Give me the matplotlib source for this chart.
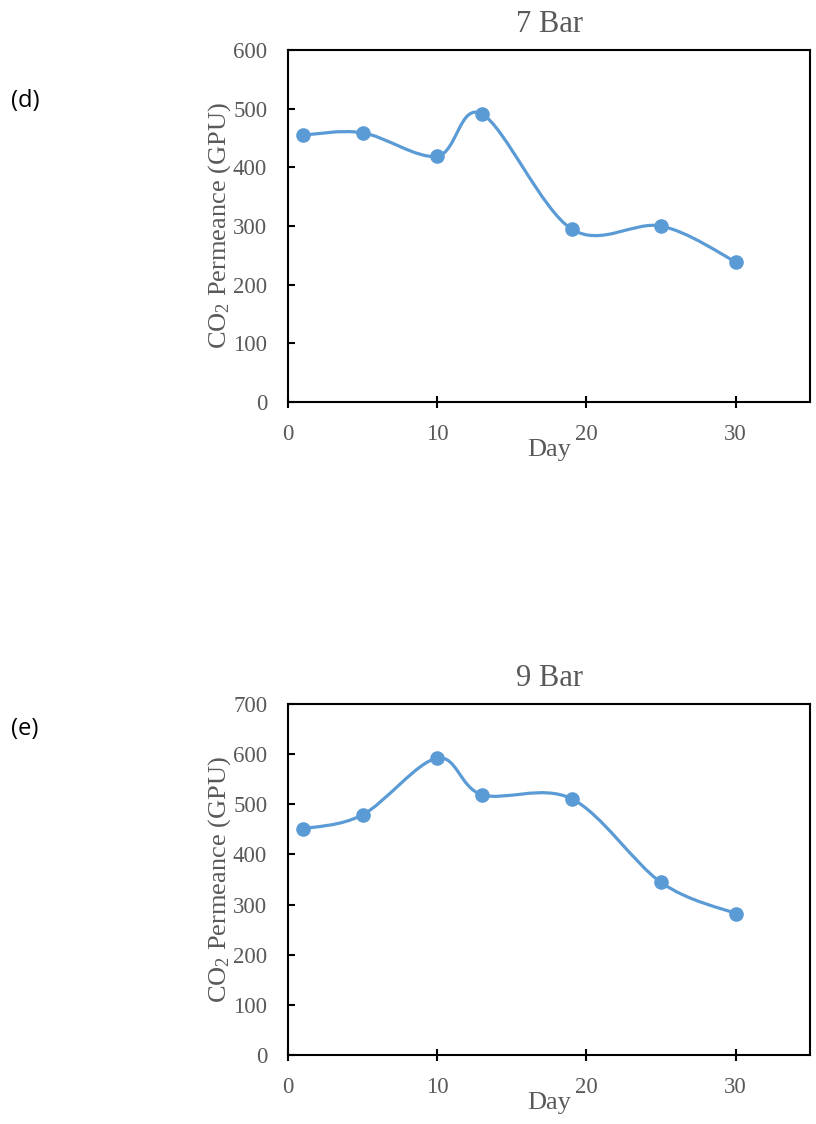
import matplotlib
matplotlib.use("Agg")
import matplotlib.pyplot as plt
from matplotlib.path import Path
from matplotlib.patches import PathPatch

# data
days = [1, 5, 10, 13, 19, 25, 30]
perm_7bar = [455, 459, 419, 491, 295, 300, 239]
perm_9bar = [451, 479, 592, 519, 511, 344, 282]

panel_tags = ["(d)", "(e)"]
titles = ["7 Bar", "9 Bar"]
y_tops = [600, 700]

blue = "#5B9BD5"
grey = "#595959"
serif = ["Liberation Serif", "DejaVu Serif"]

plt.rcParams["mathtext.fontset"] = "custom"
plt.rcParams["mathtext.rm"] = "Liberation Serif"
plt.rcParams["mathtext.it"] = "Liberation Serif:italic"


def smooth_path(x, y):
    # Excel-like smoothed line: cubic bezier between points
    n = len(x)
    verts = [(x[0], y[0])]
    codes = [Path.MOVETO]
    for i in range(n - 1):
        i0 = max(i - 1, 0)
        i3 = min(i + 2, n - 1)
        c1 = (x[i] + (x[i + 1] - x[i0]) / 6, y[i] + (y[i + 1] - y[i0]) / 6)
        c2 = (x[i + 1] - (x[i3] - x[i]) / 6, y[i + 1] - (y[i3] - y[i]) / 6)
        verts += [c1, c2, (x[i + 1], y[i + 1])]
        codes += [Path.CURVE4] * 3
    return Path(verts, codes)


fig = plt.figure(figsize=(8.16, 11.24), dpi=100)
boxes = [[0.353, 0.6423, 0.640, 0.3132], [0.353, 0.0614, 0.640, 0.3123]]
tag_y = [0.910, 0.3515]

for k, series in enumerate([perm_7bar, perm_9bar]):
    ax = fig.add_axes(boxes[k])
    ax.add_patch(PathPatch(smooth_path(days, series), facecolor="none",
                           edgecolor=blue, lw=2.3, zorder=2))
    ax.plot(days, series, "o", color=blue, ms=9.5, zorder=3)

    ax.set_xlim(0, 35)
    ax.set_ylim(0, y_tops[k])
    ax.set_xticks([0, 10, 20, 30])
    ax.set_yticks(range(0, y_tops[k] + 1, 100))
    for s in ax.spines.values():
        s.set_linewidth(1.5)
        s.set_color("black")
    ax.tick_params(axis="both", width=1.5, labelsize=16.5, labelcolor=grey, color="black")
    ax.tick_params(axis="x", direction="inout", length=8, pad=11.5)
    ax.tick_params(axis="y", direction="in", length=5, pad=15)
    for lab in ax.get_xticklabels() + ax.get_yticklabels():
        lab.set_family(serif)

    ax.set_title(titles[k], fontsize=22, color=grey, family=serif, pad=13)
    ax.set_xlabel("Day", fontsize=19, color=grey, family=serif)
    ax.xaxis.set_label_coords(0.5, -0.105)
    ax.set_ylabel(r"CO$_\mathrm{2}$ Permeance (GPU)", fontsize=19, color=grey, family=serif)
    ax.yaxis.set_label_coords(-0.105, 0.5)

    fig.text(0.013, tag_y[k], panel_tags[k], fontsize=17, family=["Open Sans", "DejaVu Sans"],
             color="black", va="center")

fig.savefig("out.png", dpi=100)
